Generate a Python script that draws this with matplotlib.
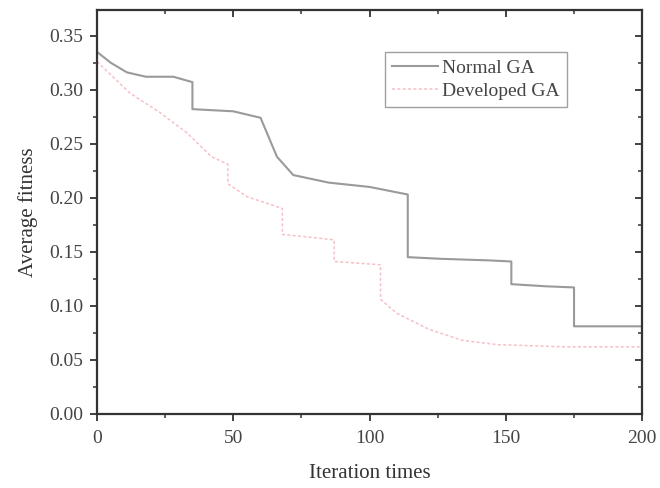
import matplotlib
matplotlib.use("Agg")
import matplotlib.pyplot as plt
from matplotlib.ticker import MultipleLocator, NullFormatter

plt.rcParams['font.family'] = ['Liberation Serif', 'DejaVu Serif']

# Normal GA (x, y)
normal_x = [0, 5, 11, 18, 28, 35, 35, 50, 60, 62, 66, 72, 85, 100, 114, 114, 126, 144, 152, 152, 165, 175, 175, 200]
normal_y = [0.335, 0.325, 0.316, 0.312, 0.312, 0.307, 0.282, 0.280, 0.274, 0.262, 0.238, 0.221, 0.214, 0.210, 0.203, 0.145, 0.1435, 0.142, 0.141, 0.120, 0.118, 0.117, 0.081, 0.081]

# Developed GA (x, y)
dev_x = [0, 12, 23, 33, 42, 48, 48, 55, 68, 68, 80, 87, 87, 104, 104, 110, 122, 134, 147, 160, 171, 200]
dev_y = [0.326, 0.297, 0.279, 0.260, 0.238, 0.231, 0.213, 0.201, 0.190, 0.166, 0.163, 0.161, 0.141, 0.138, 0.106, 0.093, 0.078, 0.068, 0.064, 0.063, 0.062, 0.062]

fig = plt.figure(figsize=(6.6, 4.88), dpi=100)
ax = fig.add_axes([0.147, 0.152, 0.826, 0.828])

ax.plot(normal_x, normal_y, color='#9a9a9a', lw=1.5, label='Normal GA')
ax.plot(dev_x, dev_y, color='#f6c0c8', lw=1.1, ls=(0, (2, 1.5)), label='Developed GA')

ax.set_xlim(0, 200)
ax.set_ylim(0, 0.374)
ax.xaxis.set_major_locator(MultipleLocator(50))
ax.xaxis.set_minor_locator(MultipleLocator(25))
ax.yaxis.set_major_locator(MultipleLocator(0.05))
ax.yaxis.set_minor_locator(MultipleLocator(0.025))
ax.yaxis.set_major_formatter(matplotlib.ticker.FormatStrFormatter('%.2f'))

for s in ax.spines.values():
    s.set_linewidth(1.6)
    s.set_color('#333333')

ax.tick_params(axis='both', which='major', direction='out', length=5, width=1.3,
               labelsize=14, colors='#333333', labelcolor='#444444', pad=5)
ax.tick_params(axis='both', which='minor', direction='out', length=3, width=1.1, colors='#333333')
ax.tick_params(axis='x', which='major', pad=7)

# inward ticks on top and right
top = ax.secondary_xaxis('top')
top.xaxis.set_major_locator(MultipleLocator(50))
top.xaxis.set_minor_locator(MultipleLocator(25))
top.xaxis.set_major_formatter(NullFormatter())
top.tick_params(which='major', direction='in', length=5, width=1.3, colors='#333333')
top.tick_params(which='minor', direction='in', length=3, width=1.1, colors='#333333')
top.spines['top'].set_visible(False)
right = ax.secondary_yaxis('right')
right.yaxis.set_major_locator(MultipleLocator(0.05))
right.yaxis.set_minor_locator(MultipleLocator(0.025))
right.yaxis.set_major_formatter(NullFormatter())
right.tick_params(which='major', direction='in', length=5, width=1.3, colors='#333333')
right.tick_params(which='minor', direction='in', length=3, width=1.1, colors='#333333')
right.spines['right'].set_visible(False)

ax.set_xlabel('Iteration times', fontsize=15, color='#333333', labelpad=12)
ax.set_ylabel('Average fitness', fontsize=15, color='#333333', labelpad=8)

leg = ax.legend(loc='upper left', bbox_to_anchor=(0.528, 0.895), fontsize=14,
                frameon=True, fancybox=False, handlelength=2.4, handletextpad=0.2,
                borderpad=0.35, labelspacing=0.3, borderaxespad=0)
leg.get_frame().set_edgecolor('#888888')
leg.get_frame().set_linewidth(1.0)
for t in leg.get_texts():
    t.set_color('#444444')

fig.savefig('out.png', dpi=100)
